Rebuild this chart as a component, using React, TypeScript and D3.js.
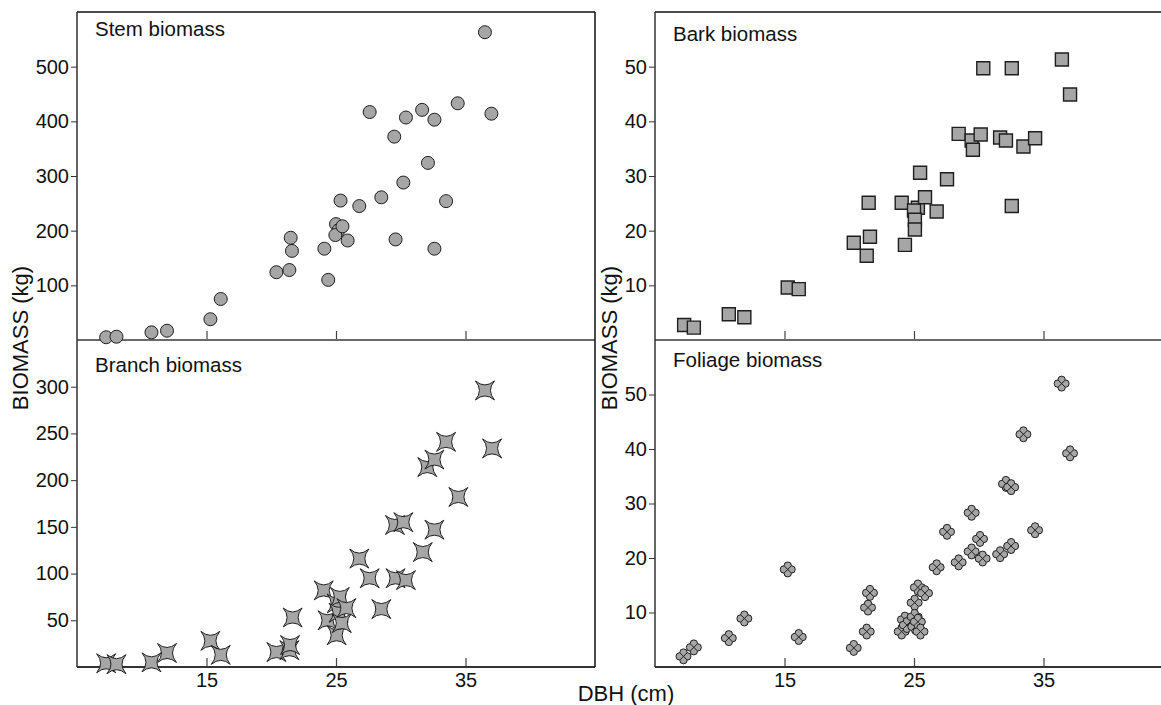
import { useEffect, useRef } from 'react';
import * as d3 from 'd3';

// DBH (cm) vs biomass (kg)
const stem: [number, number][] = [
  [7.25, 5], [8.05, 6], [10.75, 14], [11.95, 17], [15.3, 38], [16.1, 75],
  [20.4, 124], [21.4, 128], [21.5, 187], [21.6, 163], [24.1, 167], [24.4, 110],
  [25.0, 212], [25.2, 201], [24.95, 192], [25.5, 208], [25.35, 255], [25.9, 182],
  [26.8, 245], [27.6, 417], [28.5, 261], [29.5, 372], [29.6, 184], [30.2, 288],
  [30.4, 407], [31.65, 421], [32.1, 324], [32.6, 403], [32.6, 167], [33.5, 254],
  [34.4, 433], [36.5, 563], [37.0, 414],
];

const bark: [number, number][] = [
  [7.25, 2.75], [8.0, 2.26], [10.7, 4.7], [11.9, 4.15], [15.25, 9.6], [16.1, 9.3],
  [20.35, 17.8], [21.35, 15.4], [21.5, 25.1], [21.6, 18.9], [24.05, 25.1], [24.3, 17.4],
  [25.3, 24.2], [25.0, 23.7], [25.07, 22.0], [25.07, 20.2], [25.47, 30.6], [25.85, 26.1],
  [26.75, 23.5], [27.55, 29.4], [28.45, 37.7], [29.45, 36.5], [29.55, 34.8], [30.15, 37.6],
  [30.35, 49.7], [31.65, 37.05], [32.1, 36.5], [32.55, 49.7], [32.55, 24.5], [33.45, 35.4],
  [34.35, 36.9], [36.42, 51.3], [37.05, 44.9],
];

const branch: [number, number][] = [
  [7.25, 4], [8.05, 3], [10.75, 5], [11.95, 15], [15.3, 28], [16.1, 13],
  [20.4, 16], [21.4, 18], [21.45, 23.5], [21.65, 53], [24.05, 82], [24.35, 50],
  [25.05, 34], [25.05, 68], [25.3, 75], [25.2, 58], [25.45, 47], [25.8, 63],
  [26.8, 116], [27.6, 95], [28.5, 62], [29.55, 152], [29.6, 95], [30.2, 155],
  [30.4, 93], [31.7, 123], [32.05, 214], [32.6, 222], [32.6, 147], [33.5, 241],
  [34.45, 182], [36.5, 296], [37.05, 234],
];

const foliage: [number, number][] = [
  [7.2, 1.95], [8.0, 3.6], [10.7, 5.3], [11.9, 8.9], [15.25, 17.9], [16.1, 5.5],
  [20.35, 3.5], [21.35, 6.5], [21.45, 10.9], [21.6, 13.6], [24.05, 6.5], [24.3, 8.7],
  [24.45, 7.7], [25.05, 11.8], [25.05, 9.2], [25.1, 7.4], [25.3, 8.3], [25.3, 14.6],
  [25.5, 6.5], [25.85, 13.55], [26.75, 18.3], [27.55, 24.8], [28.45, 19.2], [29.45, 28.3],
  [29.45, 21.2], [30.1, 23.5], [30.3, 19.9], [31.65, 20.7], [32.1, 33.6], [32.5, 33.0],
  [32.5, 22.2], [33.45, 42.7], [34.35, 25.1], [36.4, 52.0], [37.05, 39.2],
];

const xTicks = [15, 25, 35];
const stemTicks = [100, 200, 300, 400, 500];
const branchTicks = [50, 100, 150, 200, 250, 300];
const barkTicks = [10, 20, 30, 40, 50];
const foliageTicks = [10, 20, 30, 40, 50];

const FONT = '"Liberation Sans", Arial, sans-serif';
const FILL = '#a6a6a6';
const STROKE = '#1e1e1e';

// marker shapes
const circlePath = d3.symbol(d3.symbolCircle, Math.PI * 6.5 * 6.5)();
const squarePath = d3.symbol(d3.symbolSquare, 13 * 13)();

const starPath = (() => {
  const a = 9.5, c = 1.5;
  return `M${-a},${-a}Q0,${-c} ${a},${-a}Q${c},0 ${a},${a}Q0,${c} ${-a},${a}Q${-c},0 ${-a},${-a}Z`;
})();

const cloverPath = (() => {
  const d = 3.6, r = 3.7;
  const h = Math.sqrt(r * r - (d * d) / 2);
  const p = (d / Math.SQRT2 + h) / Math.SQRT2;
  const q = (d / Math.SQRT2 - h) / Math.SQRT2;
  const arc = (x: number, y: number) => `A${r},${r} 0 1 1 ${x},${y}`;
  // outer outline of four lobes, plus short seams between them
  return `M${-p},${-p}${arc(p, -p)}${arc(p, p)}${arc(-p, p)}${arc(-p, -p)}Z` +
    `M${-p},${-p}L${-q},${-q}M${p},${-p}L${q},${-q}M${p},${p}L${q},${q}M${-p},${p}L${-q},${q}`;
})();

export default function App() {
  const ref = useRef<SVGSVGElement>(null);

  useEffect(() => {
    const width = 1161;
    const height = 705;
    const svg = d3.select(ref.current);
    svg.selectAll('*').remove();
    svg.attr('width', width).attr('height', height);

    const top = 12, mid = 340, bottom = 667;
    const panelW = 518;

    const panels = [
      { title: 'Stem biomass', data: stem, ticks: stemTicks, max: 600, x0: 77, y0: top, y1: mid, shape: circlePath, sw: 1, tx: 95, ty: 36, labels: false },
      { title: 'Branch biomass', data: branch, ticks: branchTicks, max: 350, x0: 77, y0: mid, y1: bottom, shape: starPath, sw: 1, tx: 95, ty: 372, labels: true },
      { title: 'Bark biomass', data: bark, ticks: barkTicks, max: 60, x0: 655, y0: top, y1: mid, shape: squarePath, sw: 1.4, tx: 673, ty: 41, labels: false },
      { title: 'Foliage biomass', data: foliage, ticks: foliageTicks, max: 60, x0: 655, y0: mid, y1: bottom, shape: cloverPath, sw: 1, tx: 673, ty: 367, labels: true },
    ];

    panels.forEach((p) => {
      const x = d3.scaleLinear().domain([5, 45]).range([p.x0, p.x0 + panelW]);
      const y = d3.scaleLinear().domain([0, p.max]).range([p.y1, p.y0]);
      const g = svg.append('g');

      // y axis ticks (outward)
      const ya = g.append('g')
        .attr('transform', `translate(${p.x0},0)`)
        .call(d3.axisLeft(y).tickValues(p.ticks).tickSize(6).tickPadding(2));
      ya.select('.domain').remove();
      ya.selectAll('line').attr('stroke', '#333');
      ya.selectAll('text').attr('font-family', FONT).attr('font-size', 20).attr('fill', '#111');

      // x axis ticks (inward)
      const xa = g.append('g')
        .attr('transform', `translate(0,${p.y1})`)
        .call(
          d3.axisBottom(x).tickValues(xTicks).tickSize(-9).tickPadding(6)
            .tickFormat((d) => (p.labels ? String(d) : ''))
        );
      xa.select('.domain').remove();
      xa.selectAll('line').attr('stroke', '#444').attr('stroke-width', 1.2);
      xa.selectAll('text').attr('font-family', FONT).attr('font-size', 20).attr('fill', '#111');

      // frame lines
      const xr = p.x0 + panelW;
      if (p.y0 === top) {
        g.append('line').attr('x1', p.x0).attr('x2', xr).attr('y1', top).attr('y2', top)
          .attr('stroke', '#111').attr('stroke-width', 1.5);
      }
      g.append('line').attr('x1', p.x0).attr('x2', xr).attr('y1', p.y1).attr('y2', p.y1)
        .attr('stroke', p.y1 === mid ? '#6a6a6a' : '#333').attr('stroke-width', 2);
      g.append('line').attr('x1', p.x0).attr('x2', p.x0).attr('y1', p.y0).attr('y2', p.y1)
        .attr('stroke', '#333').attr('stroke-width', 1.5);
      if (p.x0 === 77) {
        g.append('line').attr('x1', xr).attr('x2', xr).attr('y1', p.y0).attr('y2', p.y1)
          .attr('stroke', '#111').attr('stroke-width', 1.5);
      }

      g.append('text')
        .attr('x', p.tx).attr('y', p.ty)
        .attr('font-family', FONT).attr('font-size', 20.5).attr('fill', '#111')
        .text(p.title);

      g.selectAll('path.mark')
        .data(p.data)
        .join('path')
        .attr('class', 'mark')
        .attr('d', p.shape)
        .attr('transform', (d) => `translate(${x(d[0])},${y(d[1])})`)
        .attr('fill', FILL)
        .attr('stroke', STROKE)
        .attr('stroke-width', p.sw);
    });

    // axis titles
    [28, 617].forEach((bx) => {
      svg.append('text')
        .attr('transform', `translate(${bx},338) rotate(-90)`)
        .attr('text-anchor', 'middle')
        .attr('font-family', FONT).attr('font-size', 22).attr('fill', '#111')
        .text('BIOMASS (kg)');
    });
    svg.append('text')
      .attr('x', 626).attr('y', 701)
      .attr('text-anchor', 'middle')
      .attr('font-family', FONT).attr('font-size', 22).attr('fill', '#111')
      .text('DBH (cm)');
  }, []);

  return <svg ref={ref} style={{ position: 'absolute', left: 0, top: 0, background: '#fff' }} />;
}
